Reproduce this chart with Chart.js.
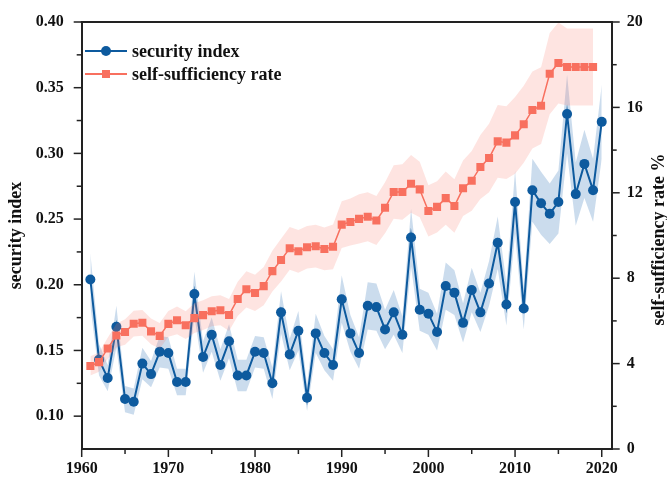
<!DOCTYPE html>
<html>
<head>
<meta charset="UTF-8">
<script src="https://cdn.jsdelivr.net/npm/chart.js"></script>
<title>security index</title>
<style>
  html, body { margin: 0; padding: 0; background: #fff; }
  #wrap { width: 667px; height: 479px; }
</style>
</head>
<body>
<div id="wrap"><canvas id="myChart" width="667" height="479"></canvas></div>
<script>
// years of the security index (1961-2020); self-sufficiency stops at 2019
var years = [1961,1962,1963,1964,1965,1966,1967,1968,1969,1970,
             1971,1972,1973,1974,1975,1976,1977,1978,1979,1980,
             1981,1982,1983,1984,1985,1986,1987,1988,1989,1990,
             1991,1992,1993,1994,1995,1996,1997,1998,1999,2000,
             2001,2002,2003,2004,2005,2006,2007,2008,2009,2010,
             2011,2012,2013,2014,2015,2016,2017,2018,2019,2020];

var security = [0.204,0.143,0.129,0.168,0.113,0.111,0.140,0.132,0.149,0.148,
                0.126,0.126,0.193,0.145,0.162,0.139,0.157,0.131,0.131,0.149,
                0.148,0.125,0.179,0.147,0.165,0.114,0.163,0.148,0.139,0.189,
                0.163,0.148,0.184,0.183,0.166,0.179,0.162,0.236,0.181,0.178,
                0.164,0.199,0.194,0.171,0.196,0.179,0.201,0.232,0.185,0.263,
                0.182,0.272,0.262,0.254,0.263,0.330,0.269,0.292,0.272,0.324];

// half width of the blue shaded band
var securityErr = [0.020,0.012,0.010,0.016,0.010,0.010,0.012,0.010,0.012,0.012,
                   0.010,0.010,0.017,0.012,0.013,0.012,0.013,0.012,0.012,0.012,
                   0.012,0.012,0.016,0.012,0.015,0.010,0.015,0.013,0.012,0.018,
                   0.014,0.012,0.018,0.018,0.015,0.017,0.014,0.022,0.016,0.016,
                   0.014,0.018,0.017,0.015,0.017,0.015,0.017,0.020,0.016,0.024,
                   0.016,0.024,0.024,0.023,0.024,0.030,0.024,0.026,0.024,0.028];

var selfRate = [3.89,4.07,4.71,5.32,5.48,5.87,5.91,5.51,5.30,5.86,
                6.03,5.80,6.13,6.27,6.45,6.50,6.28,7.03,7.48,7.31,
                7.63,8.33,8.85,9.40,9.26,9.45,9.50,9.37,9.47,10.51,
                10.63,10.78,10.88,10.70,11.30,12.04,12.04,12.42,12.16,11.15,
                11.34,11.75,11.38,12.21,12.56,13.21,13.63,14.41,14.35,14.69,
                15.21,15.88,16.08,17.58,18.08,17.89,17.89,17.89,17.89];

// half width of the red shaded band
var selfRateErr = [0.45,0.45,0.50,0.55,0.60,0.60,0.60,0.60,0.60,0.60,
                   0.65,0.65,0.70,0.70,0.70,0.70,0.75,0.80,0.85,0.85,
                   0.90,0.95,1.00,1.00,1.00,1.00,1.00,1.00,1.05,1.10,
                   1.10,1.15,1.15,1.15,1.20,1.25,1.30,1.35,1.30,1.20,
                   1.20,1.25,1.25,1.30,1.40,1.50,1.60,1.70,1.70,1.80,
                   1.80,1.80,1.80,1.90,1.90,1.80,1.80,1.80,1.80];

var xTicks = [1960,1970,1980,1990,2000,2010,2020];
var xMinor = [1965,1975,1985,1995,2005,2015];
var leftTicks = [0.10,0.15,0.20,0.25,0.30,0.35,0.40];
var leftMinor = [0.125,0.175,0.225,0.275,0.325,0.375];
var rightTicks = [0,4,8,12,16,20];
var rightMinor = [2,6,10,14,18];

var BLUE = '#0d5a9e';
var RED = '#f8705f';
var FONT = 'Liberation Serif, Times New Roman, serif';

var pts = function(vals, sign, err) {
    return vals.map(function(v, i) {
        return { x: years[i], y: err ? v + sign * err[i] : v };
    });
};

var bandStyle = { pointRadius: 0, borderWidth: 0, pointHoverRadius: 0 };

var datasets = [
    Object.assign({ label: 'sec lo', data: pts(security, -1, securityErr), fill: false, yAxisID: 'y', order: 4 }, bandStyle),
    Object.assign({ label: 'sec hi', data: pts(security, 1, securityErr), fill: '-1',
        backgroundColor: 'rgba(70,130,190,0.28)', yAxisID: 'y', order: 4 }, bandStyle),
    { label: 'security index', data: pts(security), yAxisID: 'y', order: 3,
      borderColor: BLUE, backgroundColor: BLUE, borderWidth: 2, pointRadius: 5,
      pointStyle: 'circle', pointBorderWidth: 0, tension: 0 },
    Object.assign({ label: 'ssr lo', data: pts(selfRate, -1, selfRateErr), fill: false, yAxisID: 'y2', order: 2 }, bandStyle),
    Object.assign({ label: 'ssr hi', data: pts(selfRate, 1, selfRateErr), fill: '-1',
        backgroundColor: 'rgba(250,120,105,0.2)', yAxisID: 'y2', order: 2 }, bandStyle),
    { label: 'self-sufficiency rate', data: pts(selfRate), yAxisID: 'y2', order: 1,
      borderColor: RED, backgroundColor: RED, borderWidth: 1.5, pointRadius: 5.7,
      pointStyle: 'rect', pointBorderWidth: 0, tension: 0 }
];

var tickFont = { family: FONT, size: 16, weight: 'bold' };

// ticks, frame top line, right title and legend
var decor = {
    id: 'decor',
    afterDraw: function(chart) {
        var ctx = chart.ctx, a = chart.chartArea;
        var sx = chart.scales.x, sy = chart.scales.y, sy2 = chart.scales.y2;
        ctx.save();
        ctx.strokeStyle = '#222';
        ctx.lineWidth = 2;
        ctx.beginPath();
        ctx.moveTo(a.left - 1, a.top);
        ctx.lineTo(a.right + 1, a.top);
        ctx.stroke();
        ctx.lineWidth = 1.5;
        var tick = function(x1, y1, x2, y2) {
            ctx.beginPath(); ctx.moveTo(x1, y1); ctx.lineTo(x2, y2); ctx.stroke();
        };
        xTicks.forEach(function(v) { var p = sx.getPixelForValue(v); tick(p, a.bottom, p, a.bottom + 8); });
        xMinor.forEach(function(v) { var p = sx.getPixelForValue(v); tick(p, a.bottom, p, a.bottom + 5); });
        leftTicks.forEach(function(v) { var p = sy.getPixelForValue(v); tick(a.left, p, a.left - 8, p); });
        leftMinor.forEach(function(v) { var p = sy.getPixelForValue(v); tick(a.left, p, a.left - 5, p); });
        rightTicks.forEach(function(v) { var p = sy2.getPixelForValue(v); tick(a.right, p, a.right + 8, p); });
        rightMinor.forEach(function(v) { var p = sy2.getPixelForValue(v); tick(a.right, p, a.right + 5, p); });

        // right axis title, reading bottom to top
        ctx.fillStyle = '#111';
        ctx.font = 'bold 18px ' + FONT;
        ctx.textAlign = 'center';
        ctx.textBaseline = 'middle';
        ctx.translate(659, (a.top + a.bottom) / 2 + 4);
        ctx.rotate(-Math.PI / 2);
        ctx.fillText('self-sufficiency rate %', 0, 0);
        ctx.restore();

        // legend
        ctx.save();
        ctx.font = 'bold 18px ' + FONT;
        ctx.textAlign = 'left';
        ctx.textBaseline = 'middle';
        var rows = [
            { y: 51, color: BLUE, text: 'security index', shape: 'circle' },
            { y: 74, color: RED, text: 'self-sufficiency rate', shape: 'rect' }
        ];
        rows.forEach(function(r) {
            ctx.strokeStyle = r.color;
            ctx.fillStyle = r.color;
            ctx.lineWidth = 2;
            ctx.beginPath(); ctx.moveTo(85, r.y); ctx.lineTo(127, r.y); ctx.stroke();
            ctx.beginPath();
            if (r.shape === 'circle') ctx.arc(106, r.y, 5, 0, Math.PI * 2);
            else ctx.rect(102, r.y - 4, 8, 8);
            ctx.fill();
            ctx.fillStyle = '#111';
            ctx.fillText(r.text, 132, r.y + 1);
        });
        ctx.restore();
    }
};

new Chart(document.getElementById('myChart'), {
    type: 'line',
    data: { datasets: datasets },
    options: {
        responsive: false,
        animation: false,
        events: [],
        layout: { padding: { top: 22, left: 0, right: 0, bottom: 0 } },
        plugins: { legend: { display: false }, tooltip: { enabled: false } },
        scales: {
            x: {
                type: 'linear', position: 'bottom', min: 1960, max: 2021.15,
                afterBuildTicks: function(s) { s.ticks = xTicks.map(function(v) { return { value: v }; }); },
                afterFit: function(s) { s.height = 30; },
                grid: { display: false, tickLength: 8 },
                border: { display: true, color: '#222', width: 2 },
                ticks: { font: tickFont, color: '#111', padding: 2, maxRotation: 0, autoSkip: false,
                         callback: function(v) { return String(v); } }
            },
            y: {
                type: 'linear', position: 'left', min: 0.075, max: 0.40,
                afterBuildTicks: function(s) { s.ticks = leftTicks.map(function(v) { return { value: v }; }); },
                afterFit: function(s) { s.width = 81.7; },
                grid: { display: false, tickLength: 8 },
                border: { display: true, color: '#222', width: 2 },
                ticks: { font: tickFont, color: '#111', padding: 10,
                         callback: function(v) { return v.toFixed(2); } },
                title: { display: true, text: 'security index', color: '#111',
                         font: { family: FONT, size: 18, weight: 'bold' }, padding: { top: 6, bottom: 0 } }
            },
            y2: {
                type: 'linear', position: 'right', min: 0, max: 20,
                afterBuildTicks: function(s) { s.ticks = rightTicks.map(function(v) { return { value: v }; }); },
                afterFit: function(s) { s.width = 55.3; },
                grid: { display: false, tickLength: 8 },
                border: { display: true, color: '#222', width: 2 },
                ticks: { font: tickFont, color: '#111', padding: 7,
                         callback: function(v) { return String(v); } }
            }
        }
    },
    plugins: [decor]
});
</script>
</body>
</html>
